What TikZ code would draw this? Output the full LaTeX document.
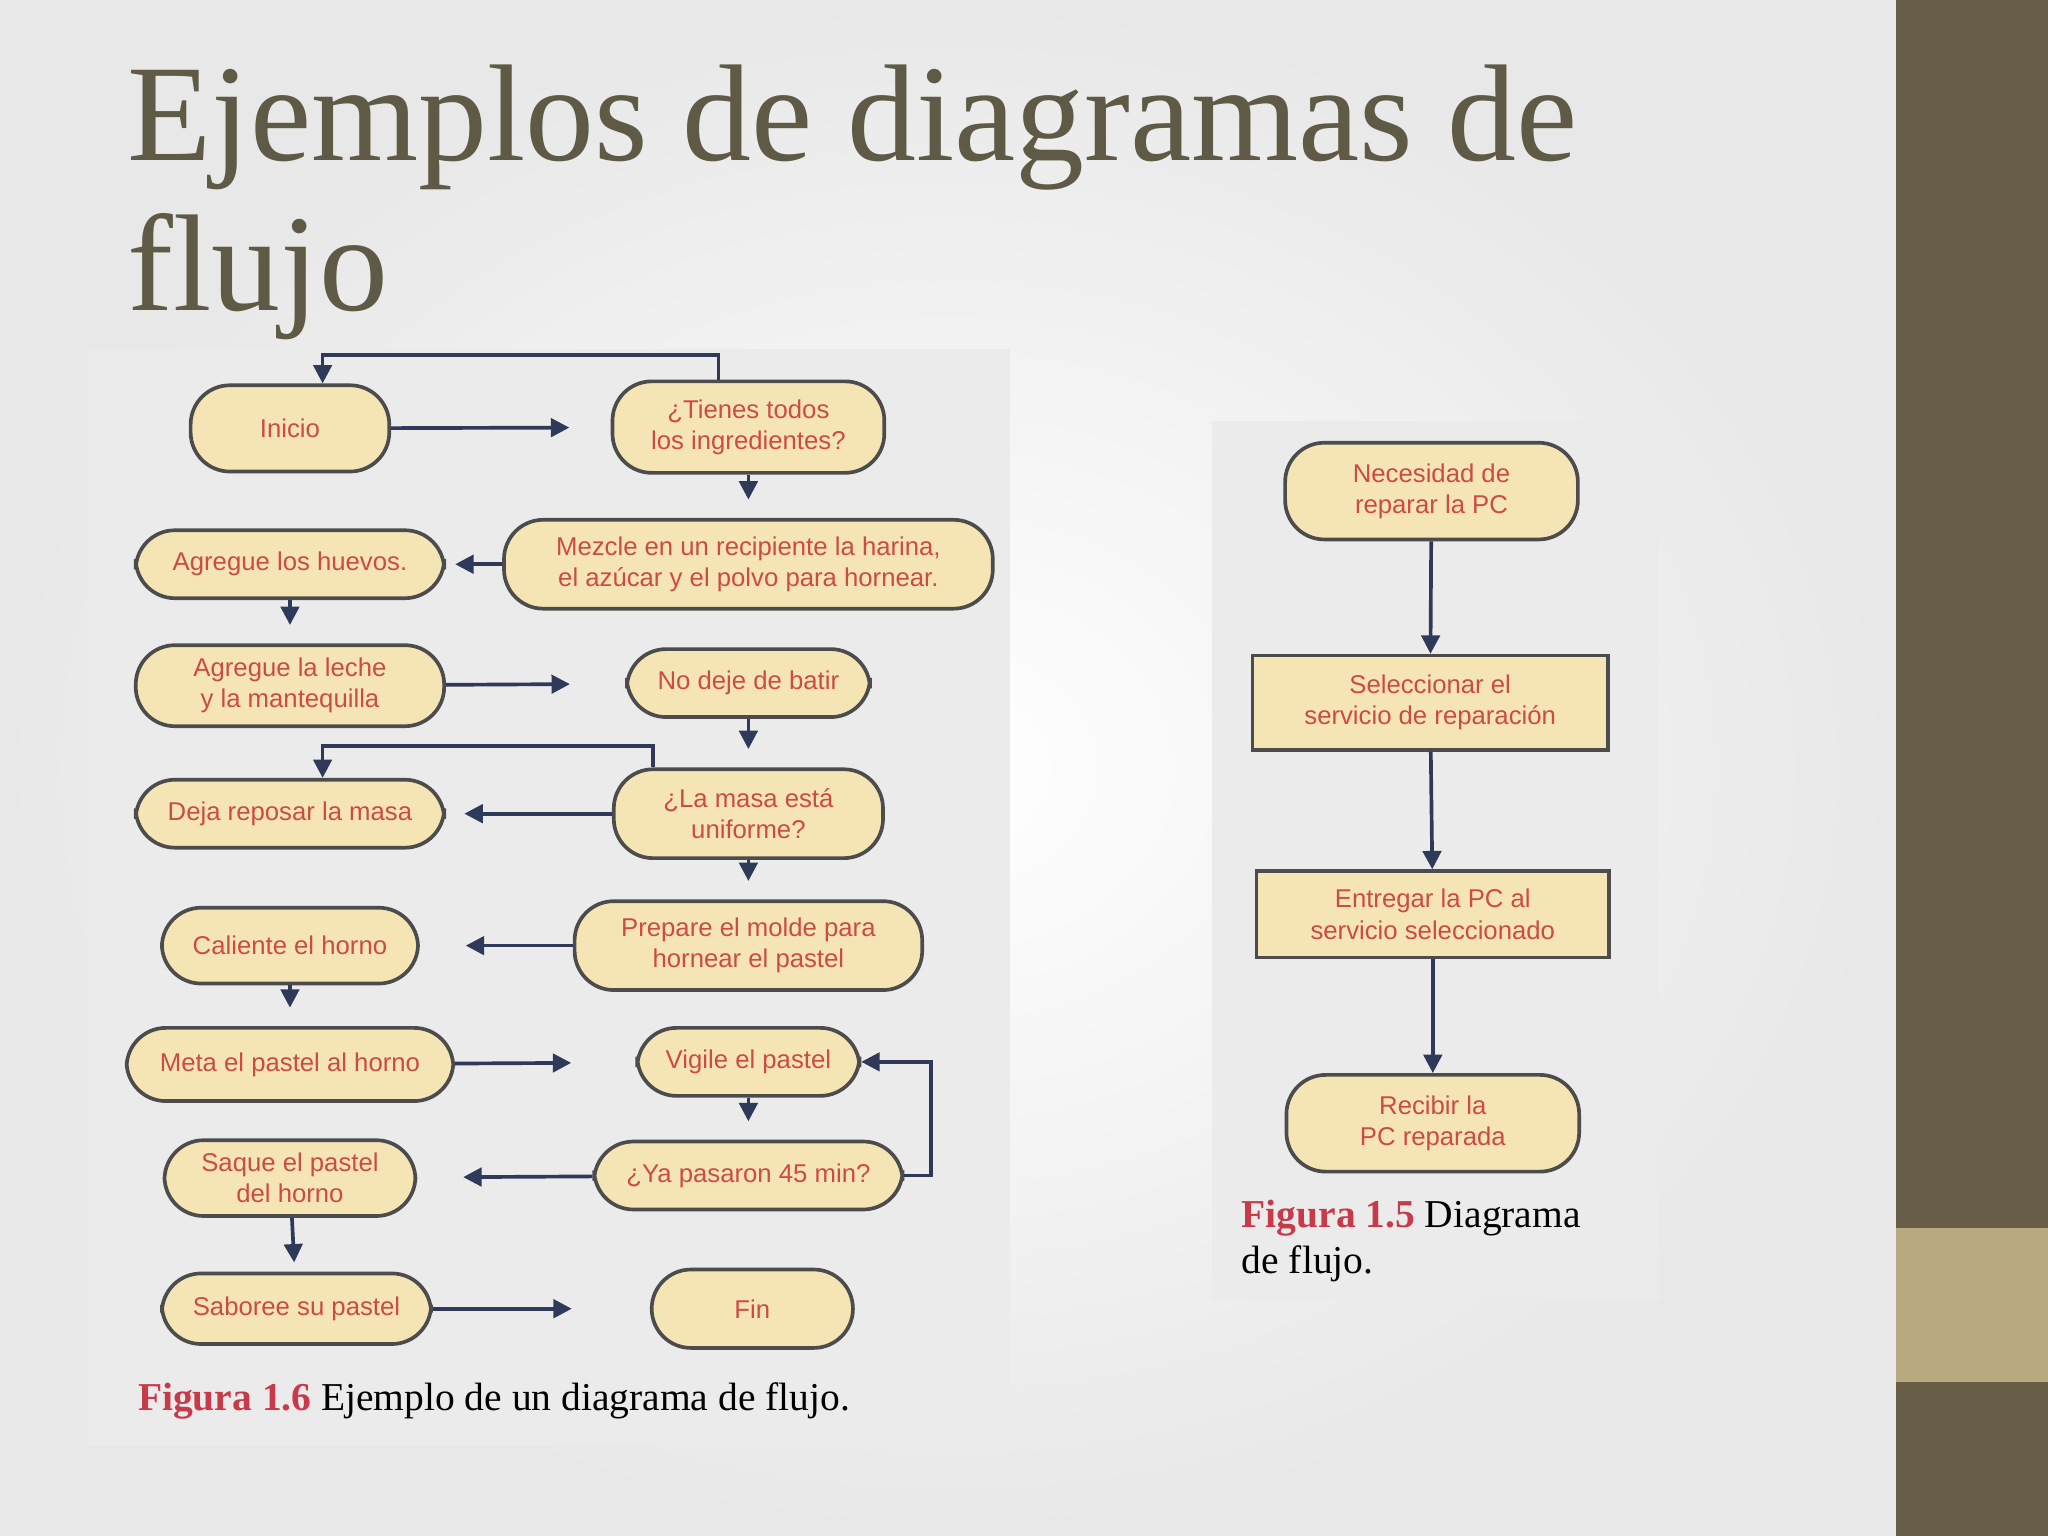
\documentclass[tikz,border=0pt]{standalone}
\usepackage{fontspec}
\setmainfont{Liberation Serif}
\setsansfont{Liberation Sans}
\usetikzlibrary{arrows.meta}
\definecolor{olive}{HTML}{685D47}
\definecolor{sand}{HTML}{B8A97E}
\definecolor{titlec}{HTML}{5E5A45}
\definecolor{boxf}{HTML}{F6E5B4}
\definecolor{txtr}{HTML}{CC4B45}
\definecolor{arr}{HTML}{2F3A5A}
\definecolor{capr}{HTML}{C8394A}
\tikzset{
  rbox/.style={draw=black!70, line width=0.8pt, fill=boxf, rounded corners=0.3cm, align=center, font=\sffamily\fontsize{5.6}{6.8}\selectfont, text=txtr, inner sep=1pt},
  sbox/.style={draw=black!70, line width=0.8pt, fill=boxf, align=center, font=\sffamily\fontsize{5.6}{6.8}\selectfont, text=txtr, inner sep=1pt},
  ar/.style={draw=arr, line width=0.8pt, -{Triangle[length=4pt,width=4pt]}},
  capt/.style={anchor=base west, inner sep=0, font=\fontsize{8.6}{10}\selectfont},
}
\begin{document}
\begin{tikzpicture}[x=0.01cm,y=-0.01cm]
\useasboundingbox (0,0) rectangle (1568,1176);
\shade[inner color=white, outer color=black!9] (0,0) rectangle (1452,1176);
\fill[olive] (1452,0) rectangle (1568,1176);
\fill[sand] (1452,940) rectangle (1568,1058);
\node[anchor=base west, text=titlec, font=\fontsize{30}{36}\selectfont, inner sep=0] (t1) at (97,123) {Ejemplos de diagramas de};
\node[anchor=base west, text=titlec, font=\fontsize{30}{36}\selectfont, inner sep=0] (t2) at (97,238) {flujo};
% left panel
\fill[black!8] (67,267) rectangle (773,1106);
\node[rbox, minimum width=1.52cm, minimum height=0.66cm] (a1) at (222,328) {Inicio};
\node[rbox, minimum width=2.08cm, minimum height=0.70cm] (b1) at (573,327) {¿Tienes todos\\los ingredientes?};
\node[rbox, minimum width=3.74cm, minimum height=0.68cm] (b2) at (573,432) {Mezcle en un recipiente la harina,\\el azúcar y el polvo para hornear.};
\node[rbox, minimum width=2.36cm, minimum height=0.52cm] (a2) at (222,432) {Agregue los huevos.};
\node[rbox, minimum width=2.36cm, minimum height=0.62cm] (a3) at (222,525) {Agregue la leche\\y la mantequilla};
\node[rbox, minimum width=1.86cm, minimum height=0.52cm] (b3) at (573,523) {No deje de batir};
\node[rbox, minimum width=2.06cm, minimum height=0.68cm] (b4) at (573,623) {¿La masa está\\uniforme?};
\node[rbox, minimum width=2.36cm, minimum height=0.52cm] (a4) at (222,623) {Deja reposar la masa};
\node[rbox, minimum width=1.96cm, minimum height=0.58cm] (a5) at (222,724) {Caliente el horno};
\node[rbox, minimum width=2.66cm, minimum height=0.68cm] (b5) at (573,724) {Prepare el molde para\\hornear el pastel};
\node[rbox, minimum width=2.50cm, minimum height=0.56cm] (a6) at (222,815) {Meta el pastel al horno};
\node[rbox, minimum width=1.70cm, minimum height=0.52cm] (b6) at (573,813) {Vigile el pastel};
\node[rbox, minimum width=2.36cm, minimum height=0.52cm] (b7) at (573,900) {¿Ya pasaron 45 min?};
\node[rbox, minimum width=1.92cm, minimum height=0.58cm] (a7) at (222,902) {Saque el pastel\\del horno};
\node[rbox, minimum width=2.06cm, minimum height=0.54cm] (a8) at (227,1002) {Saboree su pastel};
\node[rbox, minimum width=1.54cm, minimum height=0.60cm] (b8) at (576,1002) {Fin};
\node[capt] (c1) at (105,1080) {\textcolor{capr}{\textbf{Figura 1.6}} Ejemplo de un diagrama de flujo.};
\draw[ar, shorten >=9pt] (a1) -- (b1);
\draw[ar] (b1.north -| 550,0) |- (247,272) -- (a1.north -| 247,0);
\draw[ar, shorten >=4pt] (b1) -- (b2);
\draw[ar, shorten >=2pt] (b2) -- (a2);
\draw[ar, shorten >=4pt] (a2) -- (a3);
\draw[ar, shorten >=12pt] (a3) -- (b3);
\draw[ar, shorten >=4pt] (b3) -- (b4);
\draw[ar, shorten >=4pt] (b4) -- (a4);
\draw[ar] (b4.north -| 500,0) |- (247,571) -- (a4.north -| 247,0);
\draw[ar, shorten >=4pt] (b4) -- (b5);
\draw[ar, shorten >=10pt] (b5) -- (a5);
\draw[ar, shorten >=4pt] (a5) -- (a6);
\draw[ar, shorten >=14pt] (a6) -- (b6);
\draw[ar, shorten >=4pt] (b6) -- (b7);
\draw[ar] (b7.east) -| (713,813) -- (b6.east);
\draw[ar, shorten >=10pt] (b7) -- (a7);
\draw[ar, shorten >=2pt] (a7) -- (a8);
\draw[ar, shorten >=17pt] (a8) -- (b8);
% right panel
\fill[black!8] (928,322) rectangle (1270,995);
\node[rbox, minimum width=2.24cm, minimum height=0.74cm] (r1) at (1096,376) {Necesidad de\\reparar la PC};
\node[sbox, minimum width=2.72cm, minimum height=0.72cm] (r2) at (1095,538) {Seleccionar el\\servicio de reparación};
\node[sbox, minimum width=2.70cm, minimum height=0.66cm] (r3) at (1097,700) {Entregar la PC al\\servicio seleccionado};
\node[rbox, minimum width=2.24cm, minimum height=0.74cm] (r4) at (1097,860) {Recibir la\\PC reparada};
\node[capt] (c2) at (950,940) {\textcolor{capr}{\textbf{Figura 1.5}} Diagrama};
\node[capt] (c3) at (950,975) {de flujo.};
\draw[ar] (r1) -- (r2);
\draw[ar] (r2) -- (r3);
\draw[ar] (r3) -- (r4);
\end{tikzpicture}
\end{document}
